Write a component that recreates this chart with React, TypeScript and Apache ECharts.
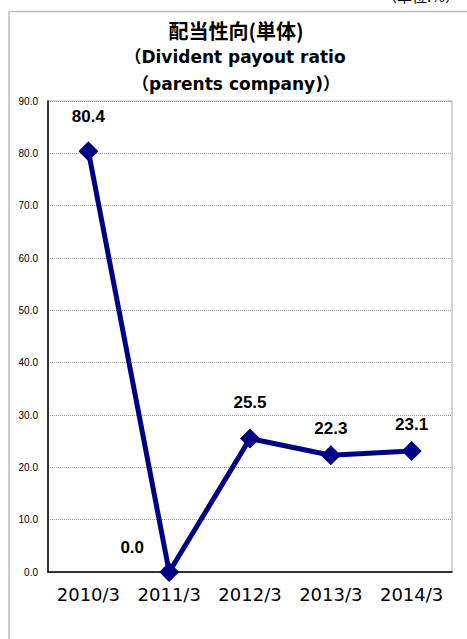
import React, { useEffect, useRef } from "react";
import * as echarts from "echarts";

const categories = ["2010/3", "2011/3", "2012/3", "2013/3", "2014/3"];
const payoutRatio = [80.4, 0.0, 25.5, 22.3, 23.1];
const labelOffsets = [[0, -8], [-37, 2], [0, -10], [0, 0], [0, 0]];
const titleLines = ["配当性向(単体)", "（Divident payout ratio", "（parents company)）"];

export default function App() {
  const ref = useRef<HTMLDivElement>(null);
  useEffect(() => {
    const chart = echarts.init(ref.current!, null, { renderer: "svg" });
    const jp = "'Noto Sans CJK JP', 'Liberation Sans', sans-serif";
    const wide = "'DejaVu Sans', 'Noto Sans CJK JP', sans-serif";
    const titleStyle = (text: string, font: string) => ({
      text,
      font,
      fill: "#000",
      textAlign: "center",
      textVerticalAlign: "middle",
    });
    chart.setOption({
      animation: false,
      backgroundColor: "#ffffff",
      graphic: [
        { type: "line", shape: { x1: 9, y1: 11.5, x2: 467, y2: 11.5 }, style: { stroke: "#bdbdbd", lineWidth: 1.5 } },
        { type: "line", shape: { x1: 9, y1: 11, x2: 9, y2: 639 }, style: { stroke: "#cfcfcf", lineWidth: 2 } },
        { type: "text", x: 382, y: -12, style: { text: "（単位:%）", font: "15px " + jp, fill: "#000" } },
        { type: "text", x: 236, y: 30, style: titleStyle(titleLines[0], "bold 20px " + jp) },
        { type: "text", x: 235, y: 57, style: titleStyle(titleLines[1], "bold 17px " + wide) },
        { type: "text", x: 236, y: 84, style: titleStyle(titleLines[2], "bold 17px " + wide) },
      ],
      grid: { left: 48, top: 101, right: 15, bottom: 67, show: true, borderColor: "#aaaaaa", borderWidth: 1 },
      xAxis: {
        type: "category",
        data: categories,
        boundaryGap: true,
        axisLine: { lineStyle: { color: "#000", width: 1.5 } },
        axisTick: { inside: true, length: 5, lineStyle: { color: "#aaaaaa" } },
        axisLabel: { color: "#000", fontSize: 18, fontFamily: wide, margin: 13, interval: 0, hideOverlap: false },
      },
      yAxis: {
        type: "value",
        min: 0,
        max: 90,
        interval: 10,
        axisLine: { show: true, lineStyle: { color: "#000", width: 1.5 } },
        axisTick: { show: false },
        axisLabel: {
          color: "#000",
          fontSize: 10,
          fontFamily: "'Liberation Sans', Arial, sans-serif",
          margin: 10,
          formatter: (v: number) => v.toFixed(1),
        },
        splitLine: { lineStyle: { color: "#999999", type: "dotted", width: 1 } },
      },
      series: [
        {
          type: "line",
          data: payoutRatio.map((v, i) => ({
            value: v,
            label: { offset: labelOffsets[i] },
          })),
          symbol: "diamond",
          symbolSize: 20,
          lineStyle: { color: "#000080", width: 5 },
          itemStyle: { color: "#000080" },
          label: {
            show: true,
            position: "top",
            distance: 8,
            color: "#000",
            fontSize: 17,
            fontWeight: "bold",
            fontFamily: "'Liberation Sans', Arial, sans-serif",
            formatter: (p: any) => Number(p.value).toFixed(1),
          },
        },
      ],
    });
    return () => chart.dispose();
  }, []);
  return (
    <div
      ref={ref}
      style={{ position: "absolute", left: 0, top: 0, width: 467, height: 639 }}
    />
  );
}
